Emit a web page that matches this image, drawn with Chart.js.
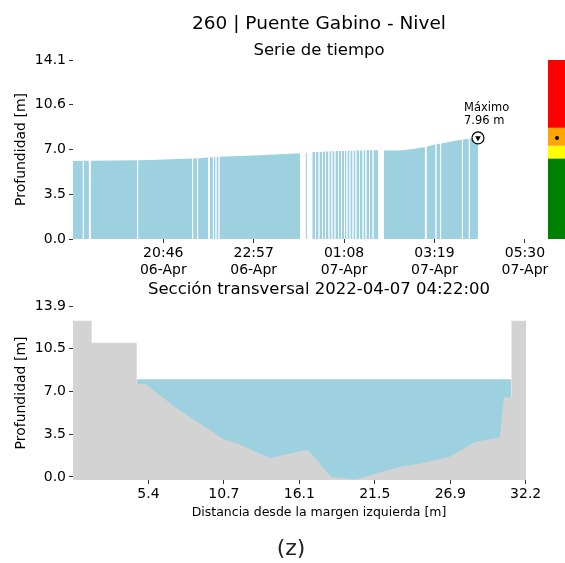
<!DOCTYPE html>
<html>
<head>
<meta charset="utf-8">
<script src="https://cdn.jsdelivr.net/npm/chart.js@4.4.0/dist/chart.umd.min.js"></script>
<style>
  html, body { margin: 0; padding: 0; background: #fff; }
  #marco { position: relative; width: 565px; height: 563px; }
  canvas { position: absolute; left: 0; top: 0; }
  #pie { position: absolute; left: 291px; top: 535px; transform: translateX(-50%);
         font: 22px 'DejaVu Sans', sans-serif; color: #222; line-height: 26px; }
</style>
</head>
<body>
<div id="marco">
  <canvas id="serie" width="565" height="563"></canvas>
  <canvas id="seccion" width="565" height="563"></canvas>
  <div id="pie">(z)</div>
</div>
<script>
// ---- Serie de tiempo (minutos desde 06-Apr 00:00; null = dato faltante)
const tiempos = [
  1115.2, 1129.5, 1130.1, 1130.7, 1138.3, 1139.5, 1140.8, 1208.3, 1208.9, 1209.5,
  1226.7, 1288.0, 1288.6, 1289.2, 1295.2, 1295.8, 1296.4, 1311.2, 1312.4, 1313.7,
  1317.9, 1318.5, 1319.1, 1321.8, 1322.4, 1323.0, 1326.1, 1326.7, 1327.3, 1386.1,
  1444.1, 1448.0, 1452.3, 1454.2, 1458.0, 1461.9,
  1465.9, 1466.5, 1467.1, 1471.0, 1471.6, 1472.2, 1476.1, 1476.7, 1477.3,
  1480.4, 1481.0, 1481.6, 1485.5, 1486.1, 1486.7, 1489.8, 1490.4, 1491.0,
  1494.2, 1494.8, 1495.4, 1499.3, 1499.9, 1500.5, 1503.6, 1504.2, 1504.8,
  1508.0, 1508.6, 1509.2, 1511.6, 1512.2, 1512.8, 1515.9, 1516.5, 1517.1,
  1520.3, 1520.9, 1521.5, 1524.6, 1525.2, 1525.8, 1529.7, 1530.3, 1530.9,
  1534.8, 1535.4, 1536.0, 1539.1, 1539.7, 1540.3, 1544.2, 1544.8, 1545.4,
  1549.3, 1549.9, 1550.5,
  1557.5, 1561.0, 1565.4, 1589.0, 1607.8, 1625.2, 1626.3, 1627.4,
  1640.5, 1641.1, 1641.7, 1647.4, 1648.0, 1648.6, 1661.4,
  1678.7, 1679.3, 1679.9, 1688.8, 1689.4, 1690.0, 1702.0
];
const niveles = [
  6.15, 6.16, null, 6.16, 6.16, null, 6.16, 6.21, null, 6.21,
  6.22, 6.34, null, 6.34, 6.36, null, 6.36, 6.42, null, 6.43,
  6.44, null, 6.44, 6.46, null, 6.46, 6.47, null, 6.48, 6.60,
  6.75, null, 6.79, 6.80, null, 6.84,
  6.85, null, 6.85, 6.86, null, 6.86, 6.88, null, 6.88,
  6.89, null, 6.89, 6.90, null, 6.90, 6.91, null, 6.91,
  6.92, null, 6.92, 6.93, null, 6.93, 6.93, null, 6.93,
  6.94, null, 6.94, 6.95, null, 6.95, 6.96, null, 6.96,
  6.96, null, 6.96, 6.97, null, 6.97, 6.98, null, 6.98,
  6.98, null, 6.98, 6.99, null, 6.99, 6.99, null, 6.99,
  7.00, null, 7.00,
  7.00, null, 6.97, 6.98, 7.08, 7.25, null, 7.27,
  7.46, null, 7.47, 7.52, null, 7.53, 7.66,
  7.83, null, 7.84, 7.89, null, 7.90, 7.96
];
const tMax = 1702.0;
const nivelMax = 7.96;
const nivelActual = 7.96;

const ticksX1 = [1246, 1377, 1508, 1639, 1770];
const etiquetasX1 = [['20:46', '06-Apr'], ['22:57', '06-Apr'], ['01:08', '07-Apr'], ['03:19', '07-Apr'], ['05:30', '07-Apr']];
const ticksY1 = [0, 3.525, 7.05, 10.575, 14.1];
const etiquetasY1 = ['0.0', '3.5', '7.0', '10.6', '14.1'];

// umbrales de alerta (barra lateral)
const umbrales = [0, 6.35, 7.35, 8.76, 14.1];
const coloresAlerta = ['#008000', '#ffff00', '#ffa500', '#ff0000'];

// ---- Sección transversal
const distancias = [0, 1.33, 1.33, 4.54, 4.54, 5.18, 7.19, 10.75, 11.82, 14.03, 16.70, 18.40,
  20.14, 23.22, 24.77, 26.78, 28.68, 30.39, 30.70, 31.23, 31.23, 32.29];
const cotas = [12.73, 12.73, 10.94, 10.94, 7.57, 7.57, 5.75, 3.05, 2.67, 1.55, 2.24, 0.0,
  -0.21, 0.82, 1.09, 1.63, 2.86, 3.22, 6.48, 6.48, 12.73, 12.73];
const nivelAgua = 7.96;
const limitesAgua = [4.54, 31.23];

const ticksX2 = [5.373, 10.747, 16.12, 21.493, 26.867, 32.24];
const etiquetasX2 = ['5.4', '10.7', '16.1', '21.5', '26.9', '32.2'];
const ticksY2 = [0, 3.485, 6.97, 10.455, 13.94];
const etiquetasY2 = ['0.0', '3.5', '7.0', '10.5', '13.9'];

const azul = '#9ed1e0';
const gris = '#d3d3d3';

Chart.defaults.font.family = "'DejaVu Sans', sans-serif";
Chart.defaults.color = '#000';

function marcas() {
  return { drawOnChartArea: false, drawTicks: true, tickLength: 4, color: '#333', lineWidth: 1 };
}

// el eje x no debe reservar margen para las etiquetas de los extremos
function ajusteX(alto) {
  return s => { s.height = alto; s.paddingLeft = 0; s.paddingRight = 0; };
}

// barra de colores y texto del maximo
const extrasSerie = {
  id: 'extrasSerie',
  afterDraw(chart) {
    const { ctx, scales: { x, y } } = chart;
    ctx.save();
    for (let i = 0; i < coloresAlerta.length; i++) {
      const y0 = y.getPixelForValue(umbrales[i]);
      const y1 = y.getPixelForValue(umbrales[i + 1]);
      ctx.fillStyle = coloresAlerta[i];
      ctx.fillRect(548, y1, 17, y0 - y1);
    }
    ctx.beginPath();
    ctx.arc(557, y.getPixelForValue(nivelActual), 2, 0, 2 * Math.PI);
    ctx.fillStyle = '#000';
    ctx.fill();

    const px = x.getPixelForValue(tMax);
    const py = y.getPixelForValue(nivelMax);
    ctx.font = "11.5px 'DejaVu Sans'";
    ctx.textAlign = 'left';
    ctx.textBaseline = 'middle';
    ctx.fillText('Máximo', px - 14, py - 30);
    ctx.fillText(nivelMax.toFixed(2) + ' m', px - 14, py - 17);
    ctx.restore();
  }
};

new Chart('serie', {
  type: 'line',
  data: {
    datasets: [
      {
        data: [{ x: tMax, y: nivelMax }], showLine: false,
        pointStyle: 'triangle', rotation: 180, pointRadius: 3.3,
        pointBackgroundColor: '#000', pointBorderColor: '#000', pointBorderWidth: 0
      },
      {
        data: [{ x: tMax, y: nivelMax }], showLine: false,
        pointRadius: 6, pointBackgroundColor: '#fff', pointBorderColor: '#000', pointBorderWidth: 1.2
      },
      {
        data: tiempos.map((t, i) => ({ x: t, y: niveles[i] })),
        fill: 'origin', backgroundColor: azul, borderColor: 'rgba(0,0,0,0)',
        borderWidth: 0, pointRadius: 0, spanGaps: false, tension: 0
      }
    ]
  },
  options: {
    responsive: false,
    animation: false,
    layout: { autoPadding: false, padding: { top: 0, left: 0, right: 0, bottom: 280 } },
    plugins: {
      legend: { display: false },
      tooltip: { enabled: false },
      title: {
        display: true, text: '260 | Puente Gabino - Nivel', fullSize: false,
        font: { size: 18.5, weight: 'normal' }, color: '#000', padding: { top: 13, bottom: 0 }
      },
      subtitle: {
        display: true, text: 'Serie de tiempo', fullSize: false,
        font: { size: 16.5, weight: 'normal', lineHeight: 1.1 }, color: '#000', padding: { top: 6, bottom: 0.65 }
      }
    },
    scales: {
      x: {
        type: 'linear', min: 1115.2, max: 1828.1,
        afterBuildTicks: s => { s.ticks = ticksX1.map(v => ({ value: v })); },
        afterFit: ajusteX(44),
        ticks: { callback: (v, i) => etiquetasX1[i], autoSkip: false, maxRotation: 0, padding: 2, font: { size: 14 } },
        grid: marcas(),
        border: { display: false }
      },
      y: {
        min: 0, max: 14.1,
        afterBuildTicks: s => { s.ticks = ticksY1.map(v => ({ value: v })); },
        afterFit: s => { s.width = 73; },
        ticks: { callback: (v, i) => etiquetasY1[i], padding: 3, font: { size: 14 } },
        title: { display: true, text: 'Profundidad [m]', font: { size: 14 }, padding: { top: 13, bottom: 0 } },
        grid: marcas(),
        border: { display: false }
      }
    }
  },
  plugins: [extrasSerie]
});

new Chart('seccion', {
  type: 'line',
  data: {
    datasets: [
      {
        data: distancias.map((d, i) => ({ x: d, y: cotas[i] })),
        fill: 'start', backgroundColor: gris, borderColor: 'rgba(0,0,0,0)',
        borderWidth: 0, pointRadius: 0, tension: 0
      },
      {
        data: limitesAgua.map(d => ({ x: d, y: nivelAgua })),
        fill: 'start', backgroundColor: azul, borderColor: 'rgba(0,0,0,0)',
        borderWidth: 0, pointRadius: 0, tension: 0
      }
    ]
  },
  options: {
    responsive: false,
    animation: false,
    layout: { autoPadding: false, padding: { top: 280, left: 0, right: 0, bottom: 43 } },
    plugins: {
      legend: { display: false },
      tooltip: { enabled: false },
      title: {
        display: true, text: 'Sección transversal 2022-04-07 04:22:00', fullSize: false,
        font: { size: 16.5, weight: 'normal' }, color: '#000', padding: { top: 0, bottom: 6.2 }
      }
    },
    scales: {
      x: {
        type: 'linear', min: 0, max: 35.04,
        afterBuildTicks: s => { s.ticks = ticksX2.map(v => ({ value: v })); },
        afterFit: ajusteX(40),
        ticks: { callback: (v, i) => etiquetasX2[i], autoSkip: false, maxRotation: 0, padding: 2, font: { size: 14 } },
        title: { display: true, text: 'Distancia desde la margen izquierda [m]', font: { size: 12.5 }, padding: { top: 0, bottom: 0 } },
        grid: marcas(),
        border: { display: false }
      },
      y: {
        min: -0.25, max: 13.94,
        afterBuildTicks: s => { s.ticks = ticksY2.map(v => ({ value: v })); },
        afterFit: s => { s.width = 73; },
        ticks: { callback: (v, i) => etiquetasY2[i], padding: 3, font: { size: 14 } },
        title: { display: true, text: 'Profundidad [m]', font: { size: 14 }, padding: { top: 13, bottom: 0 } },
        grid: marcas(),
        border: { display: false }
      }
    }
  }
});
</script>
</body>
</html>
